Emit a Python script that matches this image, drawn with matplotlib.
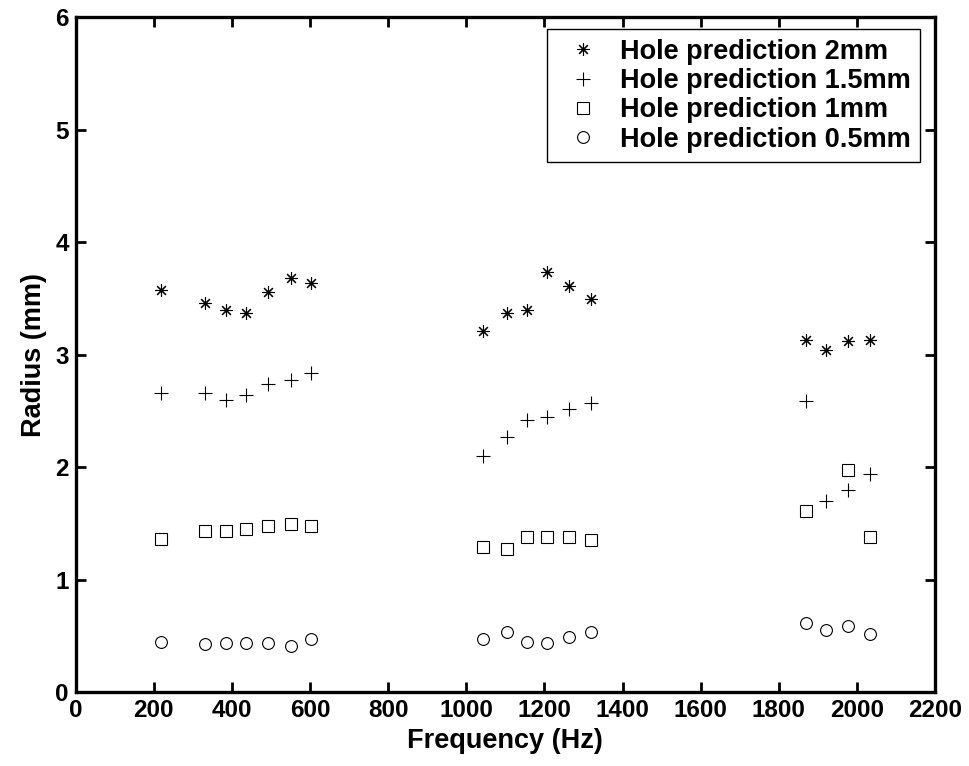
import numpy as np
import matplotlib
matplotlib.use("Agg")
import matplotlib.pyplot as plt

plt.rcParams['font.family'] = ['Liberation Sans', 'DejaVu Sans']
plt.rcParams['font.weight'] = 'bold'

# frequencies (Hz) of the three measurement groups
freq_2mm = [218, 332, 385, 437, 492, 550, 603,
            1043, 1103, 1156, 1206, 1263, 1319,
            1870, 1922, 1977, 2033]
r_2mm = [3.58, 3.46, 3.40, 3.37, 3.56, 3.68, 3.64,
         3.21, 3.37, 3.40, 3.74, 3.61, 3.50,
         3.13, 3.04, 3.12, 3.13]

freq_15mm = freq_2mm
r_15mm = [2.66, 2.66, 2.60, 2.64, 2.74, 2.78, 2.84,
          2.10, 2.27, 2.42, 2.45, 2.52, 2.57,
          2.59, 1.70, 1.80, 1.94]

freq_1mm = [218, 332, 385, 437, 492, 550, 603,
            1043, 1103, 1156, 1206, 1263, 1319,
            1870, 1977, 2033]
r_1mm = [1.36, 1.43, 1.43, 1.45, 1.48, 1.50, 1.48,
         1.29, 1.27, 1.38, 1.38, 1.38, 1.35,
         1.61, 1.98, 1.38]

freq_05mm = freq_2mm
r_05mm = [0.45, 0.43, 0.44, 0.44, 0.44, 0.41, 0.47,
          0.47, 0.54, 0.45, 0.44, 0.49, 0.54,
          0.62, 0.55, 0.59, 0.52]

labels = ['Hole prediction 2mm', 'Hole prediction 1.5mm',
          'Hole prediction 1mm', 'Hole prediction 0.5mm']

fig = plt.figure(figsize=(9.69, 7.66), dpi=100)
ax = fig.add_axes([0.0781, 0.0962, 0.8868, 0.8812])

mkw = dict(linestyle='none', color='black', markerfacecolor='none',
           markeredgecolor='black', markeredgewidth=0.8)
ax.plot(freq_2mm, r_2mm, marker=(8, 2, 0), markersize=9, label=labels[0], **mkw)
ax.plot(freq_15mm, r_15mm, marker='+', markersize=10, label=labels[1], **mkw)
ax.plot(freq_1mm, r_1mm, marker='s', markersize=8.5, label=labels[2], **mkw)
ax.plot(freq_05mm, r_05mm, marker='o', markersize=8.5, label=labels[3], **mkw)

ax.set_xlim(0, 2200)
ax.set_ylim(0, 6)
ax.set_xticks(np.arange(0, 2201, 200))
ax.set_yticks(np.arange(0, 7, 1))

for s in ax.spines.values():
    s.set_linewidth(2.4)
ax.tick_params(direction='in', length=7, width=2, top=True, right=True,
               labelsize=17.5, pad=5)
for t in ax.get_xticklabels() + ax.get_yticklabels():
    t.set_fontweight('bold')

ax.set_xlabel('Frequency (Hz)', fontsize=19.5, fontweight='bold', labelpad=4)
ax.set_ylabel('Radius (mm)', fontsize=19.5, fontweight='bold', labelpad=6)

leg = ax.legend(loc='upper right', bbox_to_anchor=(0.9825, 0.9822),
                borderaxespad=0, fontsize=19.5, frameon=True, fancybox=False,
                framealpha=1, edgecolor='black', handlelength=2.0,
                handletextpad=0.35, borderpad=0.35, labelspacing=0.12)
leg.get_frame().set_linewidth(1.0)
for t in leg.get_texts():
    t.set_fontweight('bold')

fig.savefig('out.png', dpi=100)
